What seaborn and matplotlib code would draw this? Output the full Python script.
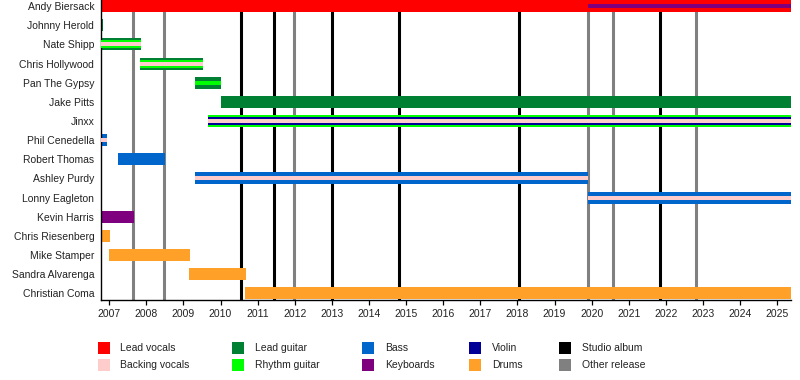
import pandas as pd
import matplotlib.pyplot as plt
import seaborn as sns
from matplotlib.patches import Rectangle

# band members, top to bottom
members = ['Andy Biersack', 'Johnny Herold', 'Nate Shipp', 'Chris Hollywood',
           'Pan The Gypsy', 'Jake Pitts', 'Jinxx', 'Phil Cenedella',
           'Robert Thomas', 'Ashley Purdy', 'Lonny Eagleton', 'Kevin Harris',
           'Chris Riesenberg', 'Mike Stamper', 'Sandra Alvarenga', 'Christian Coma']

t_start = 2006.78
t_end = 2025.37

# one entry per stint; layer 0 = main role, 1/2 = secondary roles drawn inside
seg_member = ['Andy Biersack', 'Andy Biersack',
              'Johnny Herold',
              'Nate Shipp', 'Nate Shipp', 'Nate Shipp',
              'Chris Hollywood', 'Chris Hollywood', 'Chris Hollywood',
              'Pan The Gypsy', 'Pan The Gypsy',
              'Jake Pitts',
              'Jinxx', 'Jinxx', 'Jinxx',
              'Phil Cenedella', 'Phil Cenedella',
              'Robert Thomas',
              'Ashley Purdy', 'Ashley Purdy',
              'Lonny Eagleton', 'Lonny Eagleton',
              'Kevin Harris',
              'Chris Riesenberg', 'Mike Stamper', 'Sandra Alvarenga', 'Christian Coma']
seg_role = ['Lead vocals', 'Keyboards',
            'Lead guitar',
            'Lead guitar', 'Rhythm guitar', 'Backing vocals',
            'Lead guitar', 'Rhythm guitar', 'Backing vocals',
            'Lead guitar', 'Rhythm guitar',
            'Lead guitar',
            'Rhythm guitar', 'Violin', 'Backing vocals',
            'Bass', 'Backing vocals',
            'Bass',
            'Bass', 'Backing vocals',
            'Bass', 'Backing vocals',
            'Keyboards',
            'Drums', 'Drums', 'Drums', 'Drums']
seg_start = [t_start, 2019.9,
             t_start,
             t_start, t_start, t_start,
             2007.83, 2007.83, 2007.83,
             2009.31, 2009.31,
             2010.0,
             2009.66, 2009.66, 2009.66,
             t_start, t_start,
             2007.23,
             2009.31, 2009.31,
             2019.9, 2019.9,
             t_start,
             t_start, 2006.99, 2009.15, 2010.66]
seg_end = [t_end, t_end,
           2006.84,
           2007.85, 2007.85, 2007.85,
           2009.53, 2009.53, 2009.53,
           2010.01, 2010.01,
           t_end,
           t_end, t_end, t_end,
           2006.95, 2006.95,
           2008.50,
           2019.9, 2019.9,
           t_end, t_end,
           2007.67,
           2007.02, 2009.17, 2010.68, t_end]
seg_layer = [0, 2,
             0,
             0, 1, 2,
             0, 1, 2,
             0, 2,
             0,
             0, 1, 2,
             0, 2,
             0,
             0, 2,
             0, 2,
             0,
             0, 0, 0, 0]

studio_albums = [2010.55, 2011.44, 2013.0, 2014.81, 2018.04, 2021.85]
other_releases = [2007.65, 2008.48, 2011.97, 2019.9, 2020.58, 2022.82]

years = list(range(2007, 2026))

role_colors = {
    'Lead vocals': '#FF0000',
    'Backing vocals': '#FFCCCC',
    'Lead guitar': '#008033',
    'Rhythm guitar': '#00FF00',
    'Bass': '#0066CC',
    'Keyboards': '#7F007F',
    'Violin': '#000099',
    'Drums': '#FFA029',
    'Studio album': '#000000',
    'Other release': '#808080',
}
legend_order = ['Lead vocals', 'Backing vocals', 'Lead guitar', 'Rhythm guitar',
                'Bass', 'Keyboards', 'Violin', 'Drums', 'Studio album', 'Other release']

sns.set_theme(style='ticks')
plt.rcParams['font.family'] = ['Liberation Sans', 'DejaVu Sans']

fig, ax = plt.subplots(figsize=(8, 3.8), dpi=100)
fig.subplots_adjust(left=101/800, right=791/800, top=1.0, bottom=80/380)

# release lines sit behind the bars
for x in studio_albums:
    ax.axvline(x, color=role_colors['Studio album'], lw=2.2, zorder=1)
for x in other_releases:
    ax.axvline(x, color=role_colors['Other release'], lw=2.2, zorder=1)

seg = pd.DataFrame({'member': seg_member, 'role': seg_role, 'start': seg_start,
                    'end': seg_end, 'layer': seg_layer})
seg['length'] = seg['end'] - seg['start']

bar_height = {0: 0.627, 1: 0.42, 2: 0.21}
for layer in [0, 1, 2]:
    for i in seg.index[seg['layer'] == layer]:
        row = seg.loc[[i]]
        sns.barplot(data=row, x='length', y='member', order=members, orient='y',
                    left=row['start'].iloc[0], color=role_colors[row['role'].iloc[0]],
                    width=bar_height[layer], saturation=1, errorbar=None,
                    linewidth=0, zorder=2 + layer, ax=ax)

ax.set_xlim(t_start, t_end)
ax.set_ylim(15.35, -0.32)
ax.set_xticks(years)
ax.set_xticklabels([str(y) for y in years])
ax.set_xlabel('')
ax.set_ylabel('')
ax.tick_params(axis='y', length=0, pad=4.8, labelsize=7.5, colors='#222222')
ax.tick_params(axis='x', length=3.6, width=0.9, pad=3, labelsize=7.5,
               color='black', labelcolor='#222222')
sns.despine(ax=ax)
for s in ['left', 'bottom']:
    ax.spines[s].set_color('black')
    ax.spines[s].set_linewidth(1.0)

# legend, laid out in five columns of two
col_x = [98, 232.3, 362.3, 469.3, 559.3]
row_y = [348.3, 365.3]
for k, lab in enumerate(legend_order):
    cx = col_x[k // 2]
    cy = row_y[k % 2]
    fig.add_artist(Rectangle((cx / 800, 1 - (cy + 6) / 380), 12 / 800, 12 / 380,
                             transform=fig.transFigure, color=role_colors[lab], lw=0))
    fig.text((cx + 22.5) / 800, 1 - cy / 380, lab, fontsize=7.5, color='#222222',
             ha='left', va='center')

fig.savefig('out.png', dpi=100)
